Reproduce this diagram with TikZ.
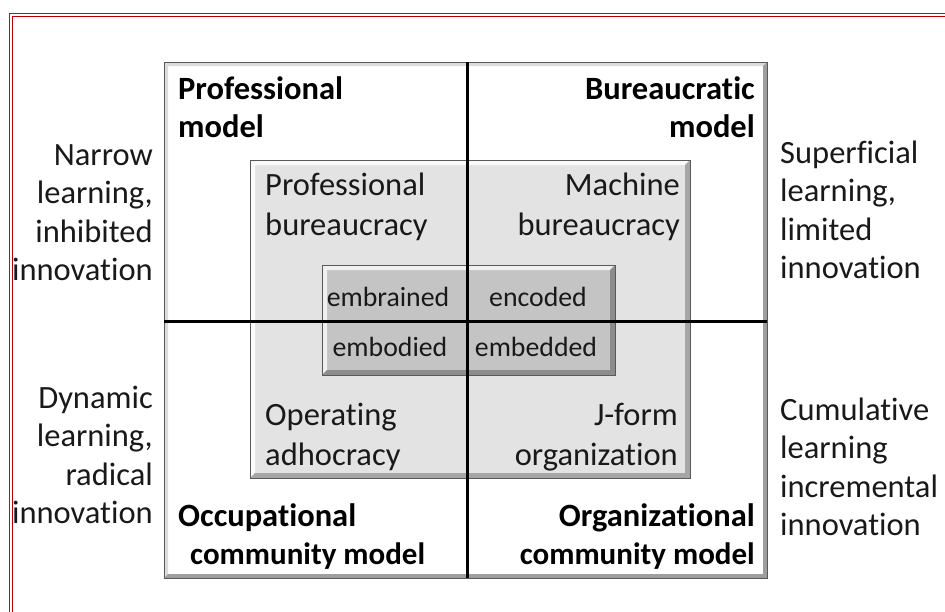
\documentclass[tikz,border=0pt]{standalone}
\usepackage{fontspec}
\setmainfont{Carlito}[Ligatures=CommonOff]
\newcommand\ms{\rule[-.25\baselineskip]{0pt}{\baselineskip}}
\newcommand\cm{\fontsize{31}{38.5}\selectfont}
\newcommand\bevel[8]{%
  \fill[#5] (#1,#2) rectangle (#3,#4);
  \fill[#6] (#1,#2) -- (#3,#2) -- ({#3-#8},{#2+#8}) -- ({#1+#8},{#2+#8}) -- ({#1+#8},{#4-#8}) -- (#1,#4) -- cycle;
  \fill[#7] (#3,#4) -- (#1,#4) -- ({#1+#8},{#4-#8}) -- ({#3-#8},{#4-#8}) -- ({#3-#8},{#2+#8}) -- (#3,#2) -- cycle;
  \draw[black!65, line width=1] (#1,#2) rectangle (#3,#4);
}
\begin{document}
\begin{tikzpicture}[x=1pt,y=-1pt,
  lab/.style={inner sep=0pt, text=black!90, font=\fontsize{32.5}{38.5}\selectfont},
  blab/.style={inner sep=0pt, text=black, font=\fontsize{32.5}{38.5}\selectfont\bfseries},
  mlab/.style={inner sep=0pt, text=black!90, font=\fontsize{32.5}{39.5}\selectfont},
  ilab/.style={inner sep=0pt, text=black!90, font=\fontsize{27.8}{30}\selectfont, anchor=base},
  axis/.style={line width=3pt, black}]
\useasboundingbox (0,0) rectangle (945,611);
\clip (0,0) rectangle (945,611);
\fill[white] (0,0) rectangle (945,611);
% red double frame
\draw[red!85!black, line width=1.2pt] (9.5,650) |- (980,13.5);
\draw[red!70!black, line width=1.2pt] (12.5,650) |- (980,16.5);
% boxes
\bevel{164}{62}{767}{578}{white}{black!14}{black!38}{4}
\bevel{250}{160}{690}{478}{black!11}{black!2}{black!35}{5}
\bevel{322}{265}{615}{375}{black!23}{black!6}{black!45}{5}
% axes
\coordinate (vt) at (467,62);
\coordinate (vb) at (467,578);
\coordinate (hl) at (164,321);
\coordinate (hr) at (767,321);
\draw[axis] (vt) -- (vb);
\draw[axis] (hl) -- (hr);
% outer labels
\node[lab, align=right, anchor=north east] (nl) at (153,136) {\ms Narrow\\\ms learning,\\\ms inhibited\\\ms innovation};
\node[lab, align=right, anchor=north east] (nd) at (153,379) {\ms Dynamic\\\ms learning,\\\ms radical\\\ms innovation};
\node[lab, align=left, anchor=north west] (ns) at (780,134) {\ms Superficial\\\ms learning,\\\ms limited\\\ms innovation};
\node[lab, align=left, anchor=north west] (nc) at (780,391) {\ms Cumulative\\\ms learning\\\ms incremental\\\ms innovation};
% model labels
\node[blab, align=left, anchor=north west] (pm) at (178,70) {\ms Professional\\\ms model};
\node[blab, align=right, anchor=north east] (bm) at (755,70) {\ms Bureaucratic\\\ms model};
\node[blab, align=left, anchor=north west] (om) at (178,497) {\ms Occupational\\\cm\ms\hspace*{12pt}community model};
\node[blab, align=right, anchor=north east] (gm) at (755,497) {\ms Organizational\\\cm\ms community model};
% middle labels
\node[mlab, align=left, anchor=north west] (pb) at (265,166) {\ms Professional\\\ms bureaucracy};
\node[mlab, align=right, anchor=north east] (mb) at (680,166) {\ms Machine\\\ms bureaucracy};
\node[mlab, align=left, anchor=north west] (oa) at (265,396) {\ms Operating\\\ms adhocracy};
\node[mlab, align=right, anchor=north east] (jf) at (678,396) {\ms J-form\\\ms organization};
% inner labels
\node[ilab] (ebr) at (388,306) {embrained};
\node[ilab] (enc) at (538,306) {encoded};
\node[ilab] (ebo) at (390,356) {embodied};
\node[ilab] (ebe) at (536,356) {embedded};
\end{tikzpicture}
\end{document}
